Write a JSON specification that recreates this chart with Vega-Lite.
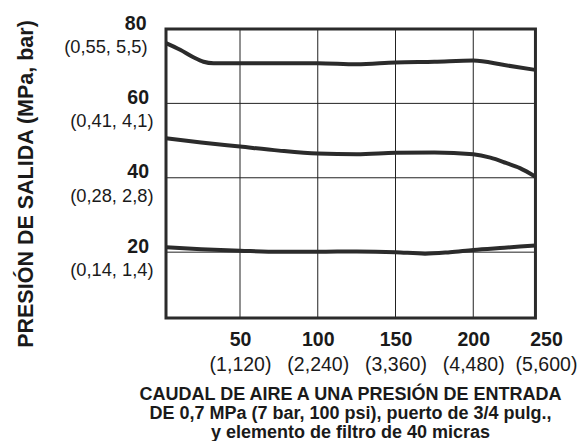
{
  "$schema": "https://vega.github.io/schema/vega-lite/v6.json",
  "autosize": "none",
  "width": 385,
  "height": 289,
  "padding": {"left": 166, "top": 29, "right": 36, "bottom": 123},
  "background": "white",
  "config": {
    "view": {"stroke": null},
    "font": "Liberation Sans",
    "axis": {"grid": false, "domain": false, "ticks": false, "tickSize": 0, "labelFlush": false, "labelOverlap": false, "labelColor": "#1a1a1a", "titleColor": "#1a1a1a", "labelFont": "Liberation Sans", "titleFont": "Liberation Sans"}
  },
  "datasets": {
    "curves": [
      {"s": "a", "caudal": 2.4, "presion": 76.2},
      {"s": "a", "caudal": 11.5, "presion": 74.4},
      {"s": "a", "caudal": 20, "presion": 72.4},
      {"s": "a", "caudal": 26.5, "presion": 71.2},
      {"s": "a", "caudal": 33, "presion": 70.8},
      {"s": "a", "caudal": 50, "presion": 70.8},
      {"s": "a", "caudal": 75, "presion": 70.8},
      {"s": "a", "caudal": 100, "presion": 70.8},
      {"s": "a", "caudal": 125, "presion": 70.5},
      {"s": "a", "caudal": 150, "presion": 71.0},
      {"s": "a", "caudal": 175, "presion": 71.2},
      {"s": "a", "caudal": 200, "presion": 71.5},
      {"s": "a", "caudal": 220, "presion": 70.3},
      {"s": "a", "caudal": 240, "presion": 69.0},
      {"s": "b", "caudal": 2.4, "presion": 50.6},
      {"s": "b", "caudal": 25, "presion": 49.5},
      {"s": "b", "caudal": 50, "presion": 48.4},
      {"s": "b", "caudal": 75, "presion": 47.3},
      {"s": "b", "caudal": 100, "presion": 46.5},
      {"s": "b", "caudal": 125, "presion": 46.3},
      {"s": "b", "caudal": 150, "presion": 46.7},
      {"s": "b", "caudal": 175, "presion": 46.8},
      {"s": "b", "caudal": 200, "presion": 46.3},
      {"s": "b", "caudal": 211, "presion": 45.4},
      {"s": "b", "caudal": 221, "presion": 44.0},
      {"s": "b", "caudal": 230, "presion": 42.6},
      {"s": "b", "caudal": 240, "presion": 40.3},
      {"s": "c", "caudal": 2.4, "presion": 21.3},
      {"s": "c", "caudal": 25, "presion": 20.8},
      {"s": "c", "caudal": 50, "presion": 20.4},
      {"s": "c", "caudal": 75, "presion": 20.1},
      {"s": "c", "caudal": 100, "presion": 20.1},
      {"s": "c", "caudal": 125, "presion": 20.2},
      {"s": "c", "caudal": 150, "presion": 20.0},
      {"s": "c", "caudal": 169, "presion": 19.6},
      {"s": "c", "caudal": 185, "presion": 20.0},
      {"s": "c", "caudal": 200, "presion": 20.6},
      {"s": "c", "caudal": 220, "presion": 21.2},
      {"s": "c", "caudal": 240, "presion": 21.8}
    ],
    "vgrid": [{"caudal": 50}, {"caudal": 100}, {"caudal": 150}, {"caudal": 200}],
    "hgrid": [{"presion": 20}, {"presion": 40}, {"presion": 60}]
  },
  "resolve": {"axis": {"x": "independent", "y": "independent"}},
  "layer": [
    {
      "data": {"name": "vgrid"},
      "mark": {"type": "rule", "color": "#222222", "strokeWidth": 1},
      "encoding": {
        "x": {
          "field": "caudal", "type": "quantitative",
          "scale": {"domain": [2.4, 250], "nice": false, "zero": false},
          "axis": {
            "orient": "bottom",
            "values": [50, 100, 150, 200, 250],
            "labelExpr": "datum.value == 50 ? '(1,120)' : datum.value == 100 ? '(2,240)' : datum.value == 150 ? '(3,360)' : datum.value == 200 ? '(4,480)' : '(5,600)'",
            "labelFontSize": 19.5,
            "labelFontWeight": "normal",
            "labelPadding": 37.5,
            "labelOffset": {"condition": {"test": "datum.value == 250", "value": -5}, "value": 0},
            "title": null
          }
        }
      }
    },
    {
      "data": {"name": "hgrid"},
      "mark": {"type": "rule", "color": "#222222", "strokeWidth": 1},
      "encoding": {
        "y": {
          "field": "presion", "type": "quantitative",
          "scale": {"domain": [2.3, 80], "nice": false, "zero": false},
          "axis": {
            "orient": "left",
            "values": [20, 40, 60, 80],
            "labelExpr": "datum.value == 20 ? '(0,14, 1,4)' : datum.value == 40 ? '(0,28, 2,8)' : datum.value == 60 ? '(0,41, 4,1)' : '(0,55, 5,5)'",
            "labelFontSize": 18.3,
            "labelFontWeight": "normal",
            "labelPadding": {"condition": {"test": "datum.value == 80", "value": 19}, "value": 13},
            "labelOffset": 18.5,
            "title": null
          }
        },
        "x": {"datum": 2.4, "type": "quantitative", "axis": null},
        "x2": {"datum": 240}
      }
    },
    {
      "data": {"name": "curves"},
      "mark": {"type": "line", "interpolate": "monotone", "color": "#2b2b2b", "strokeWidth": 4},
      "encoding": {
        "x": {
          "field": "caudal", "type": "quantitative",
          "scale": {"domain": [2.4, 250], "nice": false, "zero": false},
          "axis": {
            "orient": "bottom",
            "values": [50, 100, 150, 200, 250],
            "labelFontSize": 19.5,
            "labelFontWeight": "bold",
            "labelPadding": 12.5,
            "labelOffset": {"condition": {"test": "datum.value == 250", "value": -5}, "value": 0},
            "title": ["CAUDAL DE AIRE A UNA PRESIÓN DE ENTRADA", "DE 0,7 MPa (7 bar, 100 psi), puerto de 3/4 pulg.,", "y elemento de filtro de 40 micras"],
            "titleFontSize": 18,
            "titleFontWeight": "bold",
            "titleLineHeight": 19,
            "titleBaseline": "alphabetic",
            "titleAlign": "center",
            "titleX": 184,
            "titleY": 81.5
          }
        },
        "y": {
          "field": "presion", "type": "quantitative",
          "scale": {"domain": [2.3, 80], "nice": false, "zero": false},
          "axis": {
            "orient": "left",
            "values": [20, 40, 60, 80],
            "labelFontSize": 19.5,
            "labelFontWeight": "bold",
            "labelPadding": {"condition": {"test": "datum.value == 80", "value": 20}, "value": 17.5},
            "labelOffset": -6,
            "title": "PRESIÓN DE SALIDA (MPa, bar)",
            "titleFontSize": 21.5,
            "titleFontWeight": "bold",
            "titleAngle": 270,
            "titleBaseline": "alphabetic",
            "titleAlign": "center",
            "titleX": -133.5,
            "titleY": 154.5
          }
        },
        "detail": {"field": "s", "type": "nominal"}
      }
    },
    {
      "data": {"values": [{}]},
      "mark": {"type": "rect", "fillOpacity": 0, "stroke": "#2b2b2b", "strokeWidth": 3},
      "encoding": {
        "x": {"datum": 2.4, "type": "quantitative", "axis": null},
        "x2": {"datum": 240},
        "y": {"datum": 2.3, "type": "quantitative", "axis": null},
        "y2": {"datum": 80}
      }
    }
  ]
}
